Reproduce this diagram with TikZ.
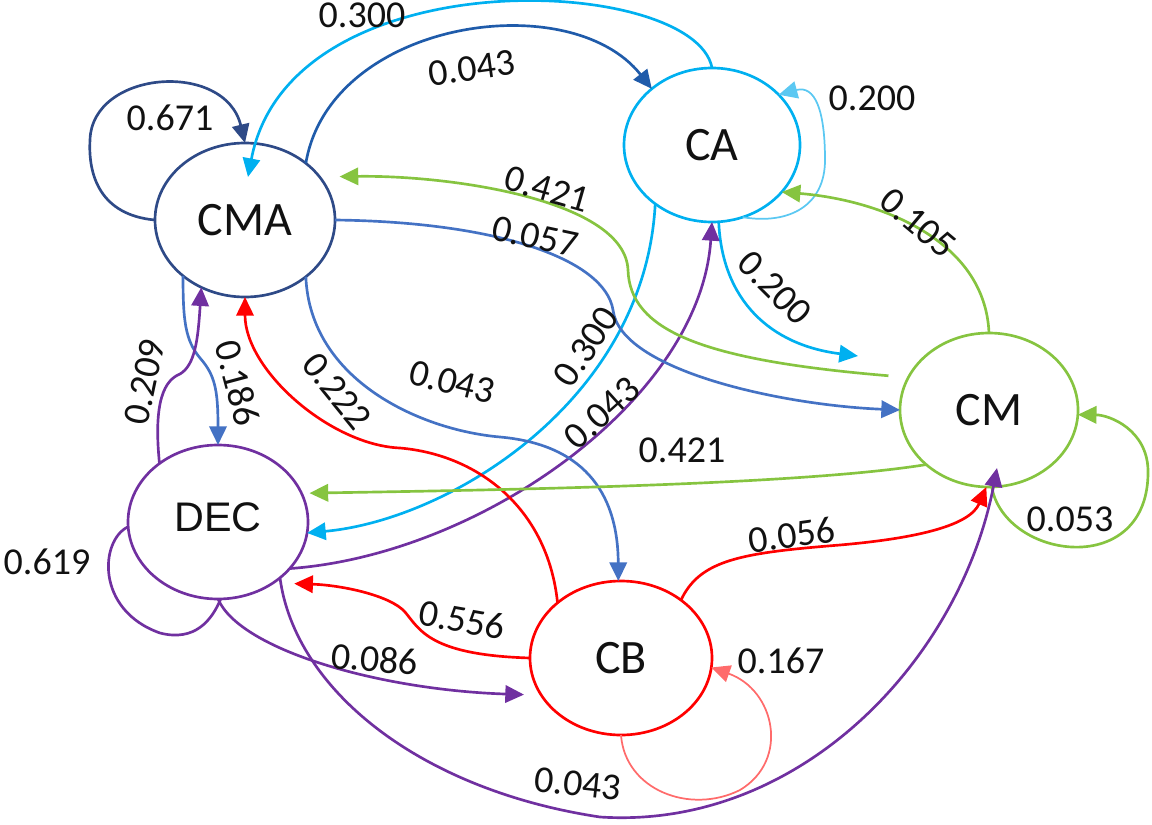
\documentclass[tikz,border=0pt]{standalone}
\usepackage{fontspec}
\setmainfont{Carlito}
\newfontfamily\arialf{Liberation Sans}
\usetikzlibrary{arrows.meta,shapes.geometric}
\definecolor{cmaC}{HTML}{2E4A87}
\definecolor{cmaArrow}{HTML}{1F5BAA}
\definecolor{blueC}{HTML}{4472C4}
\definecolor{caC}{HTML}{00B0F0}
\definecolor{caLight}{HTML}{5BC8F2}
\definecolor{cmC}{HTML}{86C440}
\definecolor{decC}{HTML}{7030A0}
\definecolor{cbC}{HTML}{FF0000}
\definecolor{cbLight}{HTML}{FF6B6B}
\definecolor{txt}{HTML}{111111}
\begin{document}
\begin{tikzpicture}[x=0.75pt,y=-0.75pt,
  state/.style={ellipse,draw,line width=2pt,minimum height=115.5pt,inner sep=0pt,outer sep=0pt,
    font=\fontsize{36}{40}\selectfont,text=txt},
  edge/.style={line width=2pt,-{Triangle[length=14pt,width=13pt]}},
  lightedge/.style={line width=1.3pt,-{Triangle[length=14pt,width=13pt]}},
  plain/.style={line width=2pt},
  lbl/.style={font=\fontsize{28.5}{30}\selectfont,text=txt,inner sep=0pt}]
\useasboundingbox (0,0) rectangle (1152,824);
% nodes
\node[state,draw=cmaC,minimum width=135pt] (CMA) at (245,220) {CMA};
\node[state,draw=caC,minimum width=132pt] (CA) at (712,145) {CA};
\node[state,draw=cmC,minimum width=133.5pt] (CM) at (989,410) {CM};
\node[state,draw=decC,minimum width=135pt,font=\arialf\fontsize{31}{34}\selectfont] (DEC) at (218,522) {\raisebox{8pt}{DEC}};
\node[state,draw=cbC,minimum width=136.5pt] (CB) at (621,658) {CB};
\coordinate (cmaIn) at (248,177);
\coordinate (caOut) at (858,356);
\coordinate (cmIn) at (997,468);
% CMA self loop
\draw[edge,cmaC] (CMA.180) .. controls (100,215) and (88,175) .. (90,140) .. controls (92,70) and (225,60) .. (CMA.90);
% CA -> CMA 0.300
\draw[edge,caC] (CA.90) .. controls (695,-25) and (290,-45) .. (cmaIn);
% CMA -> CA 0.043
\draw[edge,cmaArrow] (CMA.43) .. controls (330,20) and (570,-15) .. (CA.137);
% CA self loop 0.200
\draw[lightedge,caLight] (CA.293) .. controls (790,225) and (825,205) .. (825,160) .. controls (825,110) and (815,85) .. (CA.37);
% CM -> CA 0.105
\draw[edge,cmC] (CM.90) .. controls (985,240) and (880,200) .. (CA.-34);
% CA -> CM 0.200
\draw[edge,caC] (CA.275) .. controls (722,300) and (770,345) .. (caOut);
% CA -> DEC 0.300
\draw[edge,caC] (CA.226) .. controls (645,400) and (450,520) .. (DEC.-7);
% DEC -> CA 0.043
\draw[edge,decC] (DEC.-33) .. controls (480,555) and (700,400) .. (CA.270);
% CM -> CMA 0.421
\draw[edge,cmC,shorten <=15pt,shorten >=15pt] (CM.158) .. controls (700,360) and (630,330) .. (628,270) .. controls (625,200) and (450,175) .. (CMA.30);
% CMA -> CM 0.057
\draw[edge,blueC] (CMA.0) .. controls (500,222) and (605,260) .. (613,310) .. controls (620,370) and (780,405) .. (CM.180);
% CMA -> CB 0.043
\draw[edge,blueC] (CMA.-43) .. controls (310,380) and (420,430) .. (500,437) .. controls (590,445) and (618,500) .. (CB.92);
% CMA -> DEC 0.186
\draw[edge,blueC] (CMA.222) .. controls (183,320) and (185,340) .. (200,358) .. controls (215,375) and (218,390) .. (DEC.90);
% DEC -> CMA 0.209
\draw[edge,decC] (DEC.135) .. controls (153,400) and (165,380) .. (180,374) .. controls (195,365) and (198,340) .. (CMA.237);
% CB -> CMA 0.222
\draw[edge,cbC] (CB.139) .. controls (548,510) and (480,455) .. (400,448) .. controls (330,445) and (245,370) .. (CMA.270);
% CM -> DEC 0.421
\draw[edge,cmC,shorten >=6pt] (CM.221) .. controls (800,485) and (500,490) .. (DEC.19);
% CM self loop 0.053
\draw[edge,cmC] (CM.272) .. controls (1005,560) and (1150,580) .. (1148,470) .. controls (1147,430) and (1110,415) .. (CM.-3);
% CB -> CM 0.056
\draw[edge,cbC] (CB.44) .. controls (700,560) and (740,553) .. (840,545) .. controls (920,538) and (970,525) .. (CM.268);
% CB -> DEC 0.556
\draw[edge,cbC,shorten >=16pt] (CB.180) .. controls (430,655) and (420,630) .. (405,612) .. controls (390,595) and (340,585) .. (DEC.-48);
% DEC -> CB 0.086
\draw[edge,decC,shorten >=13pt] (DEC.270) .. controls (240,650) and (380,690) .. (CB.205);
% DEC self loop 0.619
\draw[plain,decC] (DEC.183) .. controls (100,540) and (95,610) .. (160,633) .. controls (195,642) and (212,620) .. (DEC.272);
% DEC -> CM 0.043
\draw[edge,decC] (DEC.-42) .. controls (295,690) and (420,790) .. (600,817) .. controls (800,830) and (960,660) .. (cmIn);
% CB self loop 0.167
\draw[lightedge,cbLight] (CB.270) .. controls (625,790) and (690,815) .. (740,790) .. controls (790,760) and (775,690) .. (CB.-6);
% labels
\node[lbl] (l671) at (170,118) {0.671};
\node[lbl] (l300a) at (362,15) {0.300};
\node[lbl,rotate=8] (l043a) at (472,68) {0.043};
\node[lbl] (l200a) at (872,98) {0.200};
\node[lbl,rotate=-16] (l421a) at (547,189) {0.421};
\node[lbl,rotate=-12] (l057) at (535,237) {0.057};
\node[lbl,rotate=-40] (l105) at (918,223) {0.105};
\node[lbl,rotate=-45] (l200b) at (775,288) {0.200};
\node[lbl,rotate=56] (l300b) at (586,347) {0.300};
\node[lbl,rotate=42] (l043b) at (602,413) {0.043};
\node[lbl,rotate=-14] (l043c) at (452,382) {0.043};
\node[lbl] (l421b) at (682,450) {0.421};
\node[lbl,rotate=-75] (l186) at (238,383) {0.186};
\node[lbl,rotate=78] (l209) at (145,382) {0.209};
\node[lbl,rotate=-51] (l222) at (337,391) {0.222};
\node[lbl] (l619) at (47,562) {0.619};
\node[lbl] (l053) at (1070,519) {0.053};
\node[lbl,rotate=8] (l056) at (792,535) {0.056};
\node[lbl,rotate=-10] (l556) at (462,620) {0.556};
\node[lbl,rotate=-5] (l086) at (375,659) {0.086};
\node[lbl] (l167) at (781,661) {0.167};
\node[lbl,rotate=-6] (l043d) at (578,784) {0.043};
\end{tikzpicture}
\end{document}
